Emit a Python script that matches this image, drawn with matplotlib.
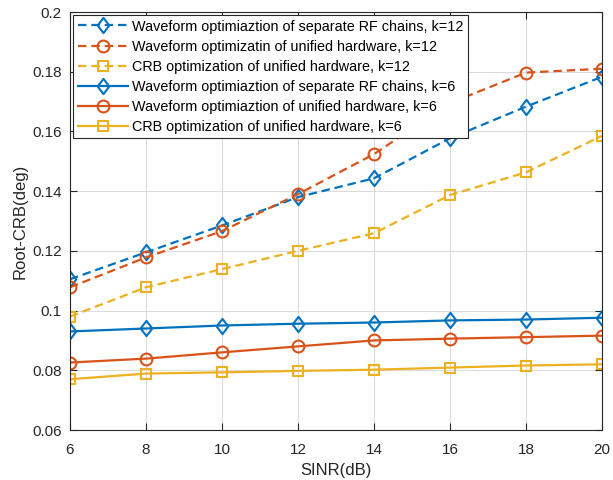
import numpy as np
import matplotlib
matplotlib.use('Agg')
import matplotlib.pyplot as plt
from matplotlib.ticker import FormatStrFormatter

# 数据
sinr = [6, 8, 10, 12, 14, 16, 18, 20]
sep_k12 = [0.1105, 0.1195, 0.1285, 0.1380, 0.1443, 0.1577, 0.1683, 0.1783]
uni_k12 = [0.1078, 0.1178, 0.1266, 0.1390, 0.1524, 0.1695, 0.1797, 0.1810]
crb_k12 = [0.0980, 0.1078, 0.1139, 0.1200, 0.1259, 0.1387, 0.1463, 0.1585]
sep_k6 = [0.0930, 0.0940, 0.0950, 0.0956, 0.0960, 0.0967, 0.0970, 0.0976]
uni_k6 = [0.0826, 0.0839, 0.0860, 0.0880, 0.0900, 0.0906, 0.0911, 0.0916]
crb_k6 = [0.0770, 0.0789, 0.0793, 0.0798, 0.0802, 0.0809, 0.0816, 0.0820]

labels = ['Waveform optimiaztion of separate RF chains, k=12',
          'Waveform optimizatin of unified hardware, k=12',
          'CRB optimization of unified hardware, k=12',
          'Waveform optimiaztion of separate RF chains, k=6',
          'Waveform optimiaztion of unified hardware, k=6',
          'CRB optimization of unified hardware, k=6']

blue, red, yellow = '#0072BD', '#D95319', '#EDB120'
# MATLAB风格的菱形
diamond = [(-0.38, 0), (0, 0.5), (0.38, 0), (0, -0.5), (-0.38, 0)]

plt.rcParams['font.family'] = ['Liberation Sans', 'DejaVu Sans']
plt.rc('font', size=11)
fig = plt.figure(figsize=(6.13, 4.8), dpi=100)
ax = fig.add_axes([70 / 613, 1 - 430 / 480, 532 / 613, 418 / 480])

kw = dict(lw=1.6, mfc='none', mew=1.5)
dash = (3.8, 2.2)
ax.plot(sinr, sep_k12, '--', color=blue, marker=diamond, ms=11, dashes=dash, **kw)
ax.plot(sinr, uni_k12, '--', color=red, marker='o', ms=8.5, dashes=dash, **kw)
ax.plot(sinr, crb_k12, '--', color=yellow, marker='s', ms=7.5, dashes=dash, **kw)
ax.plot(sinr, sep_k6, '-', color=blue, marker=diamond, ms=11, **kw)
ax.plot(sinr, uni_k6, '-', color=red, marker='o', ms=8.5, **kw)
ax.plot(sinr, crb_k6, '-', color=yellow, marker='s', ms=7.5, **kw)

ax.set_xlim(6, 20)
ax.set_ylim(0.06, 0.2)
ax.set_xticks(np.arange(6, 21, 2))
ax.set_yticks(np.arange(0.06, 0.2001, 0.02))
ax.yaxis.set_major_formatter(FormatStrFormatter('%g'))
ax.grid(True, color='#dcdcdc', lw=0.8)
ax.set_axisbelow(True)
ax.tick_params(direction='in', top=True, right=True, length=5, colors='#262626', labelsize=11)
ax.tick_params(axis='x', pad=9)
ax.tick_params(axis='y', pad=6)
for s in ax.spines.values():
    s.set_color('#262626')
    s.set_linewidth(0.8)

ax.set_xlabel('SINR(dB)', fontsize=12, color='#262626', labelpad=5)
ax.set_ylabel('Root-CRB(deg)', fontsize=12, color='#262626', labelpad=3)

leg = ax.legend(labels, loc='upper left', fontsize=10.4, handlelength=3.5,
                labelspacing=0.42, handletextpad=0.3, borderpad=0.32,
                borderaxespad=0.2, fancybox=False, framealpha=1,
                edgecolor='#262626')
leg.get_frame().set_linewidth(0.8)

plt.savefig('out.png', dpi=100)
